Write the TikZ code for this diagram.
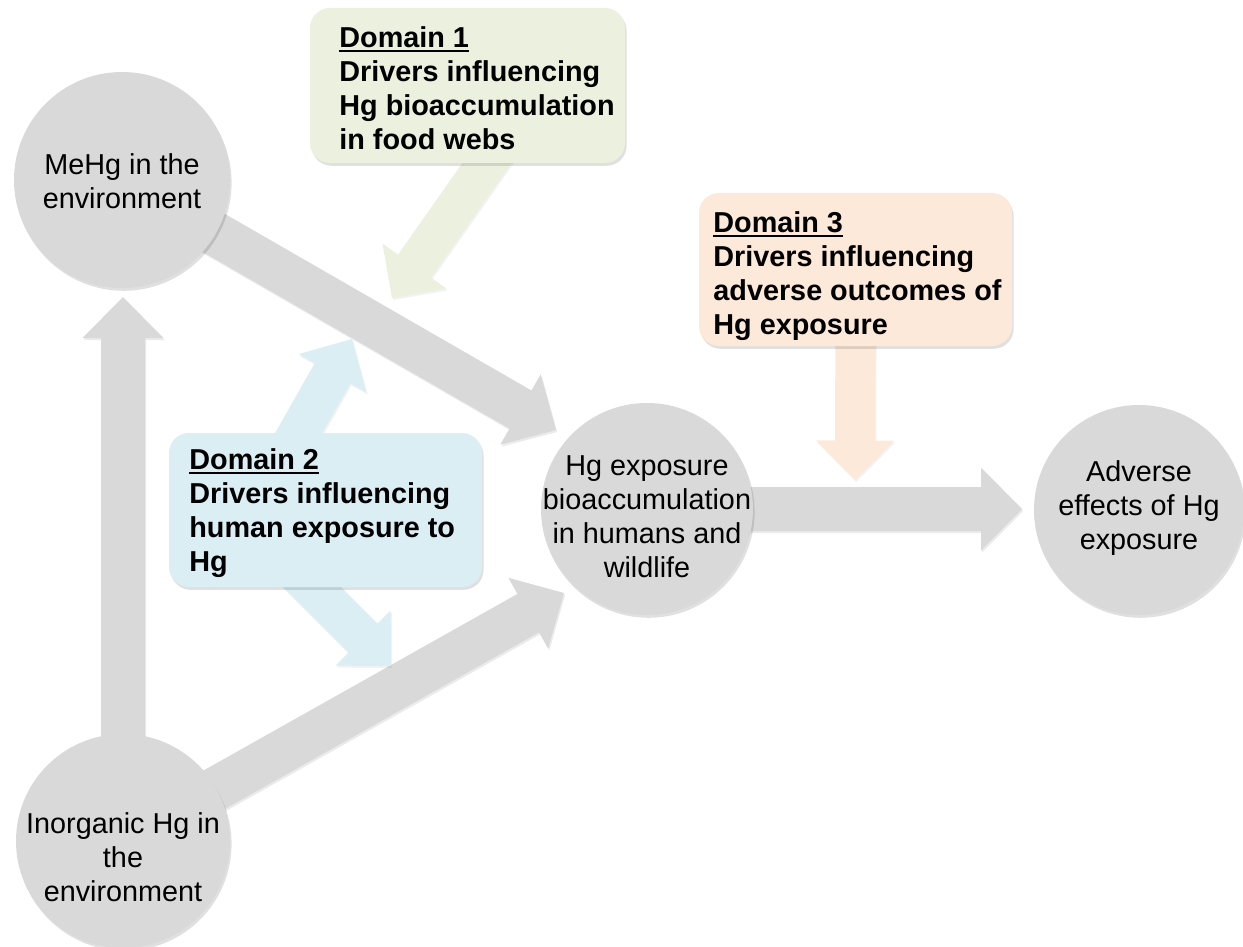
\documentclass[tikz,border=0pt]{standalone}
\usepackage{fontspec}
\setmainfont{Liberation Sans}
\usetikzlibrary{calc,shadows}
\definecolor{arrgray}{HTML}{D9D9D9}
\definecolor{dgreen}{HTML}{EBF1DE}
\definecolor{dblue}{HTML}{DBEEF4}
\definecolor{dorange}{HTML}{FDE9D9}
\pgfdeclarelayer{bg}
\pgfsetlayers{bg,main}
% #1 style, #2 start, #3 tip, #4 shaft half width, #5 head half width, #6 head length, #7 name
\newcommand\blockarrow[7]{%
  \coordinate (#7h) at ($(#3)!#6!(#2)$);
  \fill[#1] ($(#2)!#4!90:(#3)$) -- ($(#7h)!#4!90:(#3)$) -- ($(#7h)!#5!90:(#3)$) -- (#3)
    -- ($(#7h)!#5!-90:(#3)$) -- ($(#7h)!#4!-90:(#3)$) -- ($(#2)!#4!-90:(#3)$) -- cycle;}
\newcommand\myul[1]{\setbox0\hbox{#1}\rlap{\rule[-2.2pt]{\wd0}{0.9pt}}\box0}
\begin{document}
\begin{tikzpicture}[x=0.5pt,y=-0.5pt,
  softshadow/.style={drop shadow={shadow xshift=0.8pt, shadow yshift=-1.4pt, opacity=0.12, fill=black}},
  hgcircle/.style={circle, fill=arrgray, inner sep=0pt, softshadow},
  domainbox/.style={rounded corners=10pt, inner sep=0pt, softshadow},
  dtext/.style={align=left, inner sep=0pt, anchor=west, text=black,
    font=\bfseries\fontsize{14.4}{17}\selectfont},
  ctext/.style={align=center, inner sep=0pt, text=black,
    font=\fontsize{14.4}{17}\selectfont},
  grayarrow/.style={fill=arrgray,
    drop shadow={shadow xshift=0.6pt, shadow yshift=-1pt, opacity=0.08, fill=black}},
  colarrow/.style={fill=#1,
    drop shadow={shadow xshift=0.6pt, shadow yshift=-1pt, opacity=0.05, fill=black}}]
\useasboundingbox (0,0) rectangle (1243,947);

% circles
\node[hgcircle, minimum size=108pt] (mehg) at (122,180) {};
\node[hgcircle, minimum size=107pt] (inorg) at (123,841) {};
\node[hgcircle, minimum size=106pt] (hg) at (647,509) {};
\node[hgcircle, minimum size=105pt] (adv) at (1139,510) {};

\node[ctext] (mehgt) at (122,181) {MeHg in the\\environment};
\node[ctext] (inorgt) at (123,857) {Inorganic Hg in\\the\\environment};
\node[ctext] (hgt) at (647,517) {Hg exposure\\bioaccumulation\\in humans and\\wildlife};
\node[ctext] (advt) at (1139,508) {Adverse\\effects of Hg\\exposure};

% domain boxes
\node[domainbox, fill=dgreen, minimum width=157.5pt, minimum height=77.5pt] (d1) at (467.5,85.5) {};
\node[domainbox, fill=dblue, minimum width=156.5pt, minimum height=77pt] (d2) at (325.5,510) {};
\node[domainbox, fill=dorange, minimum width=156.5pt, minimum height=76.5pt] (d3) at (855.5,269.5) {};

\node[dtext] (d1t) at (339,88) {\myul{Domain 1}\\Drivers influencing\\Hg bioaccumulation\\in food webs};
\node[dtext] (d2t) at (189,513) {\myul{Domain 2}\\Drivers influencing\\human exposure to\\Hg};
\node[dtext] (d3t) at (713,276) {\myul{Domain 3}\\Drivers influencing\\adverse outcomes of\\Hg exposure};

% arrow end points
\coordinate (tipA) at (556,430);
\coordinate (tipB) at (564,593);
\coordinate (tipC) at (123,297);
\coordinate (tipD) at (1022,509);
\coordinate (tipE) at (855,480);
\coordinate (d1s) at (541,86);
\coordinate (tipF) at (392,298);
\coordinate (d2s) at (255,510);
\coordinate (tipG) at (352,339);
\coordinate (d2u) at (271,546);
\coordinate (tipH) at (391,666);

\begin{pgfonlayer}{bg}
\fill[white] (0,0) rectangle (1243,947);
\blockarrow{grayarrow}{mehg.center}{tipA}{11pt}{20.25pt}{20.5pt}{aA}
\blockarrow{grayarrow}{inorg.center}{tipB}{11pt}{20.25pt}{20.5pt}{aB}
\blockarrow{grayarrow}{inorg.center}{tipC}{11pt}{20.25pt}{20.5pt}{aC}
\blockarrow{grayarrow}{hg.center}{tipD}{11pt}{20.75pt}{20.5pt}{aD}
\blockarrow{colarrow=dorange}{d3.center}{tipE}{10pt}{19.5pt}{19.75pt}{aE}
\blockarrow{colarrow=dgreen}{d1s}{tipF}{10pt}{19.5pt}{19.5pt}{aF}
\blockarrow{colarrow=dblue}{d2s}{tipG}{10.25pt}{19.5pt}{19.75pt}{aG}
\blockarrow{colarrow=dblue}{d2u}{tipH}{10.25pt}{19.5pt}{19.75pt}{aH}
\end{pgfonlayer}
\end{tikzpicture}
\end{document}
